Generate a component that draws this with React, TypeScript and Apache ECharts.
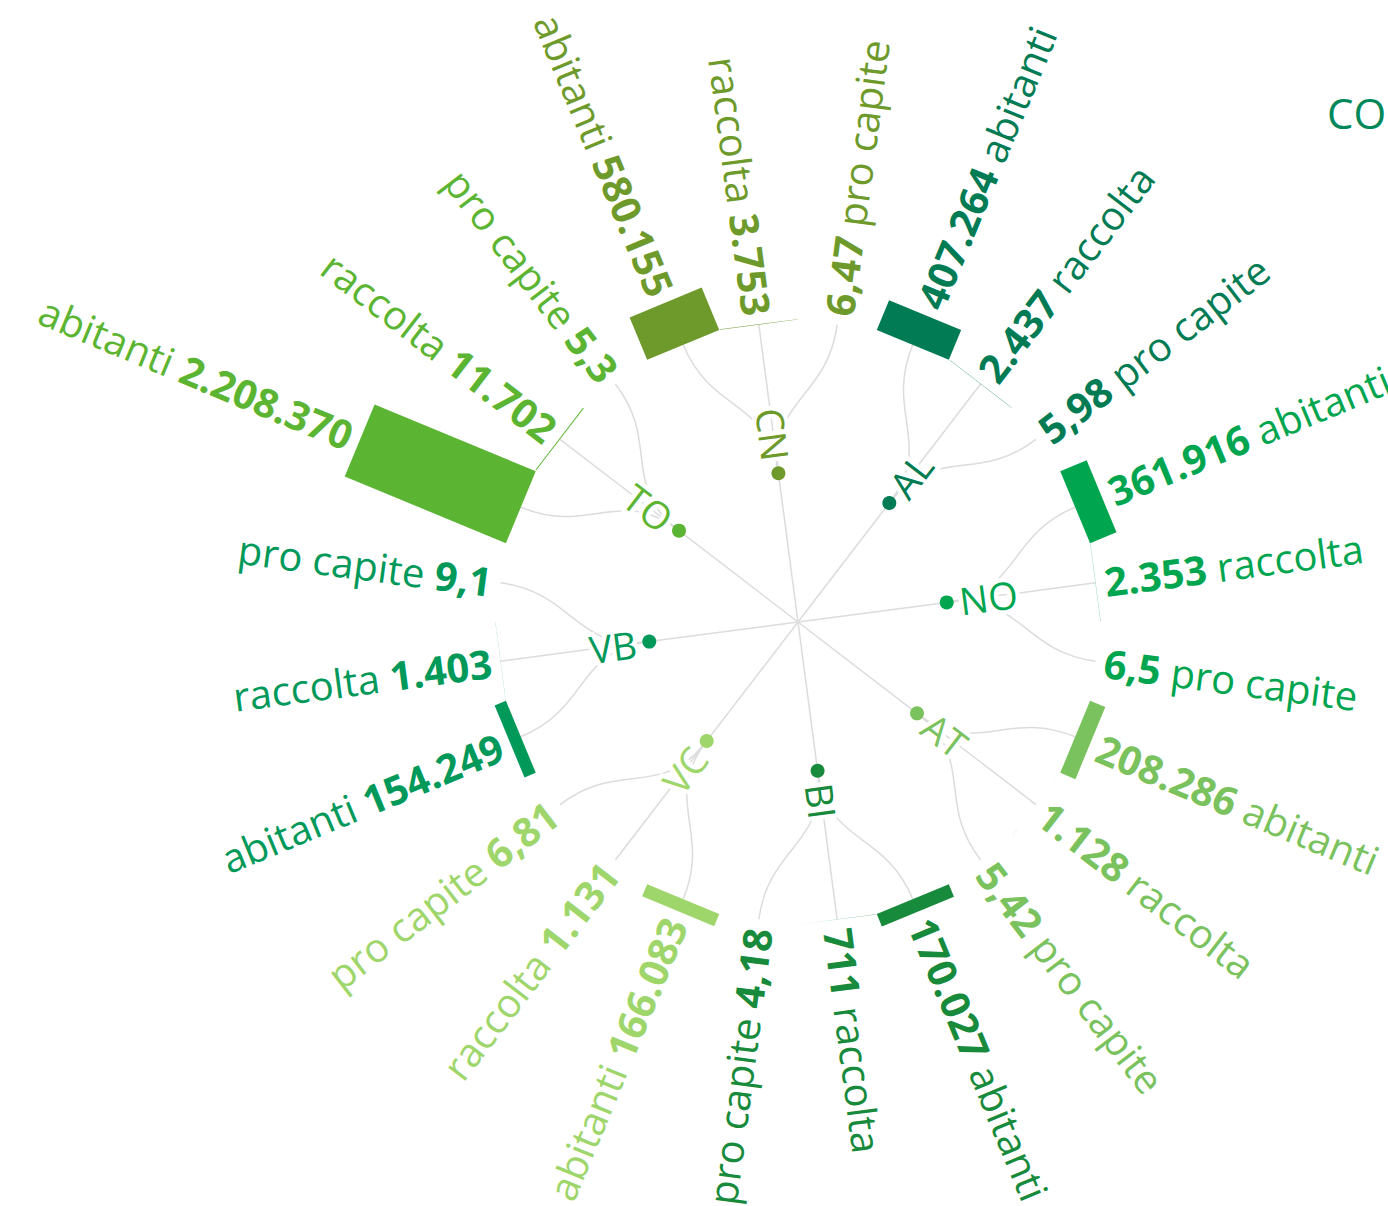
import React, { useEffect, useRef } from 'react';
import * as echarts from 'echarts';

// ---- data ----
const provinces = ['CN', 'AL', 'NO', 'AT', 'BI', 'VC', 'VB', 'TO'];
const abitanti = [580155, 407264, 361916, 208286, 170027, 166083, 154249, 2208370];
const raccolta = [3753, 2437, 2353, 1128, 711, 1131, 1403, 11702];
const proCapite = [6.47, 5.98, 6.5, 5.42, 4.18, 6.81, 9.1, 5.3];
const leafLabels = ['abitanti', 'raccolta', 'pro capite'];
const provinceColors = ['#6d9a2b', '#007b54', '#00a54f', '#79c25d', '#178a3b', '#9ed66b', '#00995a', '#5bb532'];
const titleText = 'CO';

// ---- layout / style constants ----
const CENTER = [798, 622];
const START_ANGLE = 262.5;
const GROUP_STEP = 45;
const LEAF_STEP = 15;
const R_NODE = 150;
const R_MID = 225;
const R_LEAF = 300;
const BAR_SCALE = 79 / 1e6;
const BAR_WIDTH = 78;
const TEXT_GAP = 9;
const LABEL_GAP = 13;
const LINK_COLOR = '#dcdcdc';
const FONT = '"Open Sans", "Noto Sans", sans-serif';
const LEAF_FONT_SIZE = 40;
const NODE_FONT_SIZE = 38;

const leafValues = [abitanti, raccolta, proCapite];
const fmtInt = (v: number) => String(Math.round(v)).replace(/\B(?=(\d{3})+(?!\d))/g, '.');
const fmtDec = (v: number) => String(v).replace('.', ',');
const formatters = [fmtInt, fmtInt, fmtDec];

const norm = (a: number) => ((a % 360) + 360) % 360;
const provAngle = (k: number) => norm(START_ANGLE + GROUP_STEP * k);
const leafAngle = (k: number, j: number) => norm(START_ANGLE + GROUP_STEP * k + (j - 1) * LEAF_STEP);
const flipped = (a: number) => Math.cos((a * Math.PI) / 180) < 0;
const textRotation = (a: number) => (flipped(a) ? -(a - 180) : -a) * (Math.PI / 180);

export default function App() {
  const ref = useRef<HTMLDivElement>(null);
  useEffect(() => {
    const chart = echarts.init(ref.current!, null, { renderer: 'svg' });

    const provData = provinces.map((_, k) => [R_NODE, provAngle(k), k]);
    const leafData: number[][] = [];
    provinces.forEach((_, k) =>
      leafLabels.forEach((__, j) => leafData.push([R_LEAF, leafAngle(k, j), k, j, leafValues[j][k]]))
    );

    const linksRender = (params: any, api: any) => {
      const a = api.value(1);
      const k = api.value(2);
      const c0 = api.coord([0, a]);
      const n = api.coord([R_NODE, a]);
      const children: any[] = [
        { type: 'line', shape: { x1: c0[0], y1: c0[1], x2: n[0], y2: n[1] }, style: { stroke: LINK_COLOR, lineWidth: 1.5 } },
      ];
      for (let j = 0; j < 3; j++) {
        const la = leafAngle(k, j);
        const p1 = api.coord([R_MID, a]);
        const p2 = api.coord([R_MID, la]);
        const p3 = api.coord([R_LEAF, la]);
        children.push({
          type: 'bezierCurve',
          shape: { x1: n[0], y1: n[1], cpx1: p1[0], cpy1: p1[1], cpx2: p2[0], cpy2: p2[1], x2: p3[0], y2: p3[1] },
          style: { stroke: LINK_COLOR, fill: 'none', lineWidth: 1.5 },
        });
      }
      return { type: 'group', children };
    };

    const leavesRender = (params: any, api: any) => {
      const a = api.value(1);
      const k = api.value(2);
      const j = api.value(3);
      const v = api.value(4);
      const color = provinceColors[k];
      const r1 = R_LEAF + v * BAR_SCALE;
      const O = api.coord([0, a]);
      const A = api.coord([R_LEAF, a]);
      const B = api.coord([r1, a]);
      const len = Math.hypot(A[0] - O[0], A[1] - O[1]);
      const u = [(A[0] - O[0]) / len, (A[1] - O[1]) / len];
      const t = [-u[1], u[0]];
      const h = BAR_WIDTH / 2;
      const points = [
        [A[0] + t[0] * h, A[1] + t[1] * h],
        [B[0] + t[0] * h, B[1] + t[1] * h],
        [B[0] - t[0] * h, B[1] - t[1] * h],
        [A[0] - t[0] * h, A[1] - t[1] * h],
      ];
      const T = api.coord([r1 + TEXT_GAP, a]);
      const num = formatters[j](v);
      const lab = leafLabels[j];
      const f = flipped(a);
      const text = f ? `{r|${lab}} {b|${num}}` : `{b|${num}} {r|${lab}}`;
      return {
        type: 'group',
        children: [
          { type: 'polygon', shape: { points }, style: { fill: color } },
          {
            type: 'text',
            x: T[0],
            y: T[1],
            rotation: textRotation(a),
            style: {
              text,
              align: f ? 'right' : 'left',
              verticalAlign: 'middle',
              fill: color,
              fontFamily: FONT,
              fontSize: LEAF_FONT_SIZE,
              rich: {
                b: { fill: color, fontFamily: FONT, fontSize: LEAF_FONT_SIZE, fontWeight: 'bold' },
                r: { fill: color, fontFamily: FONT, fontSize: LEAF_FONT_SIZE, fontWeight: 'normal' },
              },
            },
          },
        ],
      };
    };

    const nodesRender = (params: any, api: any) => {
      const a = api.value(1);
      const k = api.value(2);
      const color = provinceColors[k];
      const n = api.coord([R_NODE, a]);
      const L = api.coord([R_NODE + LABEL_GAP, a]);
      const f = flipped(a);
      return {
        type: 'group',
        children: [
          { type: 'circle', shape: { cx: n[0], cy: n[1], r: 7 }, style: { fill: color } },
          {
            type: 'text',
            x: L[0],
            y: L[1],
            rotation: textRotation(a),
            style: {
              text: provinces[k],
              align: f ? 'right' : 'left',
              verticalAlign: 'middle',
              fill: color,
              fontFamily: FONT,
              fontSize: NODE_FONT_SIZE,
              fontWeight: 'normal',
              stroke: '#ffffff',
              lineWidth: 9,
            },
          },
        ],
      };
    };

    chart.setOption({
      animation: false,
      backgroundColor: '#ffffff',
      title: {
        text: titleText,
        left: 1322,
        top: 86,
        textStyle: { color: '#00875a', fontFamily: FONT, fontSize: 42, fontWeight: 'normal' },
      },
      polar: { center: CENTER, radius: 1000 },
      angleAxis: { type: 'value', min: 0, max: 360, startAngle: 0, clockwise: true, show: false },
      radiusAxis: { type: 'value', min: 0, max: 1000, show: false },
      series: [
        { type: 'custom', coordinateSystem: 'polar', z: 1, data: provData, renderItem: linksRender, silent: true },
        { type: 'custom', coordinateSystem: 'polar', z: 2, data: leafData, renderItem: leavesRender, silent: true },
        { type: 'custom', coordinateSystem: 'polar', z: 3, data: provData, renderItem: nodesRender, silent: true },
      ],
    });
    return () => chart.dispose();
  }, []);
  return <div ref={ref} style={{ position: 'absolute', left: 0, top: 0, width: 1388, height: 1206 }} />;
}
